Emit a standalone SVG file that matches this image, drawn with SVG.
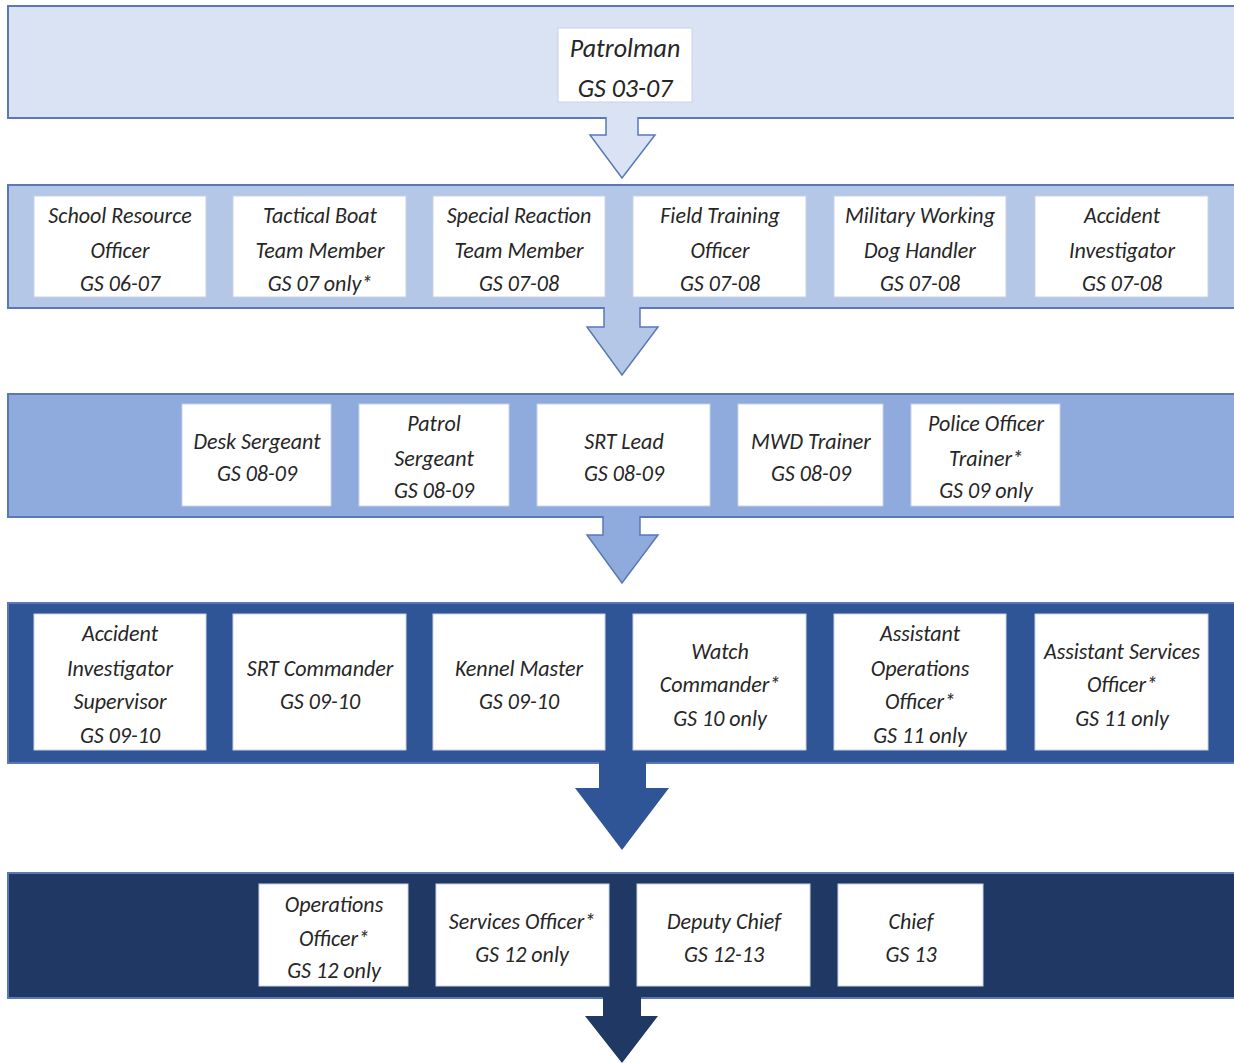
<svg xmlns="http://www.w3.org/2000/svg" width="1234" height="1063" viewBox="0 0 1234 1063">
<style>
.band{stroke:#5a78b8;stroke-width:2}
.box{fill:#ffffff;stroke:#c8d2e6;stroke-width:1}
text{font-family:Calibri,"Liberation Sans Narrow","Open Sans",sans-serif;font-style:italic;font-stretch:condensed;font-size:22px;fill:#262626;text-anchor:middle}
.big{font-size:26px}
</style>
<rect width="1234" height="1063" fill="#ffffff"/>
<g id="bands">
<rect class="band" x="8" y="6" width="1240" height="112" fill="#dae3f3"/>
<rect class="band" x="8" y="185" width="1240" height="123" fill="#b4c7e7"/>
<rect class="band" x="8" y="394" width="1240" height="123" fill="#8faadc"/>
<rect class="band" x="8" y="603" width="1240" height="160" fill="#2f5597" stroke="#4e6fae"/>
<rect class="band" x="8" y="873" width="1240" height="125" fill="#203864" stroke="#8ea2c8" stroke-width="1"/>
</g>
<g id="connectors">
<path d="M606,117 V135 H590 L622,178 L655,135 H638 V117" fill="#dae3f3" stroke="#5a78b8" stroke-width="1.5"/>
<path d="M604,307 V327 H587 L622,375 L658,327 H640 V307" fill="#b4c7e7" stroke="#5a78b8" stroke-width="1.5"/>
<path d="M603,516 V535 H587 L622,583 L658,535 H640 V516" fill="#8faadc" stroke="#5a78b8" stroke-width="1.5"/>
<path d="M599,762 V788 H575 L622,850 L669,788 H646 V762 Z" fill="#2f5597"/>
<path d="M603,997 V1016 H585 L622,1063 L658,1016 H641 V997 Z" fill="#203864"/>
</g>
<g id="patrolman"><rect class="box" x="558" y="28" width="134" height="74"/><text class="big" x="625" y="57">Patrolman</text><text class="big" x="625" y="97">GS 03-07</text></g>

<g id="school-resource-officer"><rect class="box" x="34" y="196" width="172" height="101"/><text x="120" y="223">School Resource</text><text x="120" y="258">Officer</text><text x="120" y="291">GS 06-07</text></g>
<g id="tactical-boat"><rect class="box" x="233" y="196" width="173" height="101"/><text x="320" y="223">Tactical Boat</text><text x="320" y="258">Team Member</text><text x="320" y="291">GS 07 only*</text></g>
<g id="special-reaction"><rect class="box" x="433" y="196" width="172" height="101"/><text x="519" y="223">Special Reaction</text><text x="519" y="258">Team Member</text><text x="519" y="291">GS 07-08</text></g>
<g id="field-training"><rect class="box" x="633" y="196" width="173" height="101"/><text x="720" y="223">Field Training</text><text x="720" y="258">Officer</text><text x="720" y="291">GS 07-08</text></g>
<g id="mwd-handler"><rect class="box" x="834" y="196" width="172" height="101"/><text x="920" y="223">Military Working</text><text x="920" y="258">Dog Handler</text><text x="920" y="291">GS 07-08</text></g>
<g id="accident-investigator"><rect class="box" x="1035" y="196" width="173" height="101"/><text x="1122" y="223">Accident</text><text x="1122" y="258">Investigator</text><text x="1122" y="291">GS 07-08</text></g>

<g id="desk-sergeant"><rect class="box" x="182" y="404" width="149" height="102"/><text x="257" y="449">Desk Sergeant</text><text x="257" y="481">GS 08-09</text></g>
<g id="patrol-sergeant"><rect class="box" x="359" y="404" width="150" height="102"/><text x="434" y="431">Patrol</text><text x="434" y="466">Sergeant</text><text x="434" y="498">GS 08-09</text></g>
<g id="srt-lead"><rect class="box" x="537" y="404" width="173" height="102"/><text x="624" y="449">SRT Lead</text><text x="624" y="481">GS 08-09</text></g>
<g id="mwd-trainer"><rect class="box" x="738" y="404" width="145" height="102"/><text x="811" y="449">MWD Trainer</text><text x="811" y="481">GS 08-09</text></g>
<g id="police-officer-trainer"><rect class="box" x="911" y="404" width="149" height="102"/><text x="986" y="431">Police Officer</text><text x="986" y="466">Trainer*</text><text x="986" y="498">GS 09 only</text></g>

<g id="ai-supervisor"><rect class="box" x="34" y="614" width="172" height="136"/><text x="120" y="641">Accident</text><text x="120" y="676">Investigator</text><text x="120" y="709">Supervisor</text><text x="120" y="743">GS 09-10</text></g>
<g id="srt-commander"><rect class="box" x="233" y="614" width="173" height="136"/><text x="320" y="676">SRT Commander</text><text x="320" y="709">GS 09-10</text></g>
<g id="kennel-master"><rect class="box" x="433" y="614" width="172" height="136"/><text x="519" y="676">Kennel Master</text><text x="519" y="709">GS 09-10</text></g>
<g id="watch-commander"><rect class="box" x="633" y="614" width="173" height="136"/><text x="720" y="659">Watch</text><text x="720" y="692">Commander*</text><text x="720" y="726">GS 10 only</text></g>
<g id="asst-ops-officer"><rect class="box" x="834" y="614" width="172" height="136"/><text x="920" y="641">Assistant</text><text x="920" y="676">Operations</text><text x="920" y="709">Officer*</text><text x="920" y="743">GS 11 only</text></g>
<g id="asst-services-officer"><rect class="box" x="1035" y="614" width="173" height="136"/><text x="1122" y="659">Assistant Services</text><text x="1122" y="692">Officer*</text><text x="1122" y="726">GS 11 only</text></g>

<g id="operations-officer"><rect class="box" x="259" y="884" width="149" height="102"/><text x="334" y="912">Operations</text><text x="334" y="946">Officer*</text><text x="334" y="978">GS 12 only</text></g>
<g id="services-officer"><rect class="box" x="436" y="884" width="173" height="102"/><text x="522" y="929">Services Officer*</text><text x="522" y="962">GS 12 only</text></g>
<g id="deputy-chief"><rect class="box" x="637" y="884" width="173" height="102"/><text x="724" y="929">Deputy Chief</text><text x="724" y="962">GS 12-13</text></g>
<g id="chief"><rect class="box" x="838" y="884" width="145" height="102"/><text x="911" y="929">Chief</text><text x="911" y="962">GS 13</text></g>
</svg>
